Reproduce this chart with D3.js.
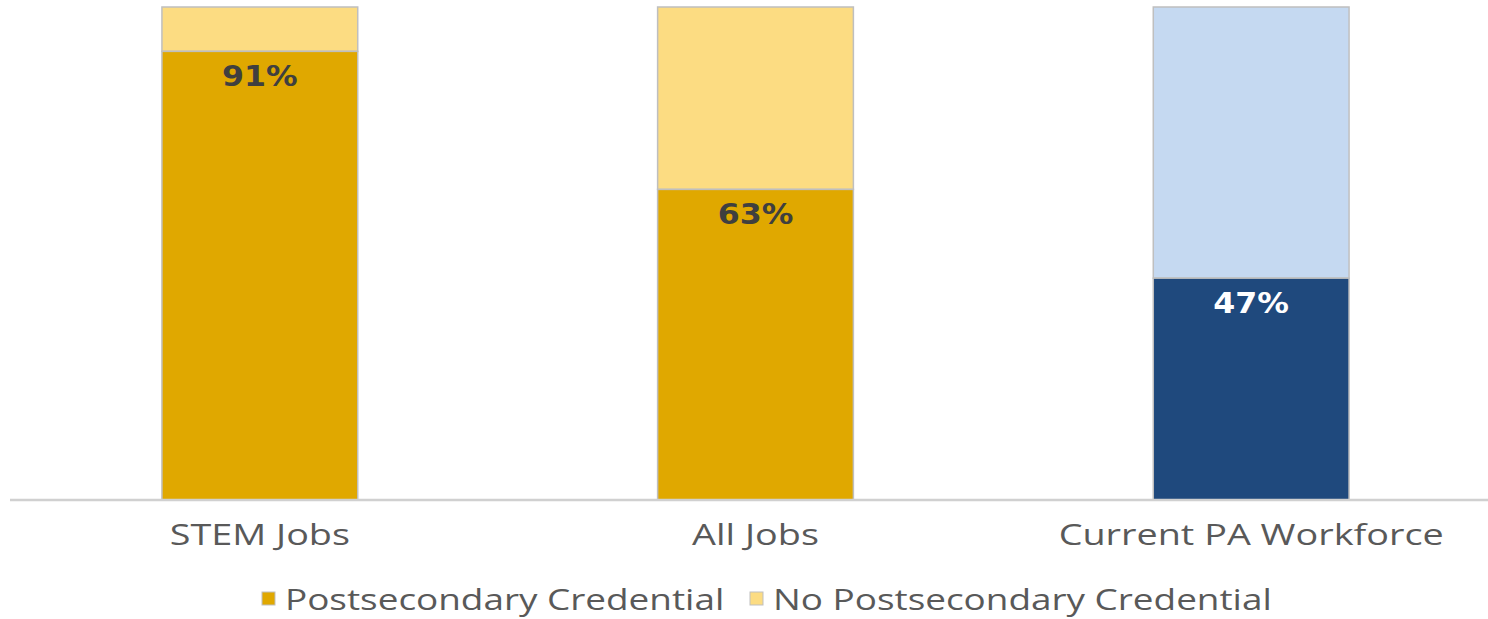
<!DOCTYPE html>
<html><head><meta charset="utf-8">
<script src="https://cdn.jsdelivr.net/npm/d3@7"></script>
<style>html,body{margin:0;padding:0;background:#fff;}svg{display:block;}</style>
</head><body><svg id="c" width="1488" height="619"></svg>
<script>
const categories = ["STEM Jobs", "All Jobs", "Current PA Workforce"];
const postsecondary = [91, 63, 45];
const noPostsecondary = [9, 37, 55];
const valueLabels = ["91%", "63%", "47%"];
const seriesNames = ["Postsecondary Credential", "No Postsecondary Credential"];
const darkColors = ["#E0A800", "#E0A800", "#1F497D"];
const lightColors = ["#FCDC82", "#FCDC82", "#C5D9F1"];
const labelColors = ["#3F3F3F", "#3F3F3F", "#FFFFFF"];

const svg = d3.select("#c");
const x = d3.scaleBand().domain(categories).range([12, 1499]).paddingInner(0.605).paddingOuter(0.3025);
const y = d3.scaleLinear().domain([0, 100]).range([500, 7]);

const rows = categories.map((c, i) => ({c, i, a: postsecondary[i], b: noPostsecondary[i]}));

svg.selectAll("rect.light").data(rows).join("rect").attr("class","light")
  .attr("x", d => x(d.c)).attr("width", x.bandwidth())
  .attr("y", d => y(d.a + d.b)).attr("height", d => y(d.a) - y(d.a + d.b))
  .attr("fill", d => lightColors[d.i]).attr("stroke", "#BFBFBF").attr("stroke-width", 1.5);
svg.selectAll("rect.dark").data(rows).join("rect").attr("class","dark")
  .attr("x", d => x(d.c)).attr("width", x.bandwidth())
  .attr("y", d => y(d.a)).attr("height", d => y(0) - y(d.a))
  .attr("fill", d => darkColors[d.i]).attr("stroke", "#BFBFBF").attr("stroke-width", 1.5);

svg.selectAll("text.val").data(rows).join("text").attr("class","val")
  .attr("transform", d => `translate(${x(d.c) + x.bandwidth()/2},${y(d.a) + 35}) scale(1.13,1)`)
  .attr("text-anchor", "middle").attr("font-family", "DejaVu Sans").attr("font-weight", "bold")
  .attr("font-size", 28).attr("fill", d => labelColors[d.i]).text(d => valueLabels[d.i]);

const ax = svg.append("g").attr("transform", "translate(0,500)")
  .call(d3.axisBottom(x).tickSize(0).tickPadding(0));
ax.select(".domain").attr("d", "M10,0H1488").attr("stroke", "#D0D0D0").attr("stroke-width", 2.5);
ax.selectAll(".tick text").attr("y", 0).attr("dy", 0)
  .attr("transform", "translate(0,45) scale(1.26,1)")
  .attr("font-family", "Open Sans").attr("font-size", 30).attr("fill", "#595959");

const legend = svg.append("g");
const legX = [262, 750];
seriesNames.forEach((n, i) => {
  const g = legend.append("g").attr("transform", `translate(${legX[i]},0)`);
  g.append("rect").attr("x", 0).attr("y", 592).attr("width", 13).attr("height", 13)
    .attr("fill", i === 0 ? darkColors[0] : lightColors[0]).attr("stroke", "#BFBFBF").attr("stroke-width", 1);
  g.append("text").attr("transform", "translate(23,610) scale(1.23,1)").attr("font-family", "Open Sans")
    .attr("font-size", 30).attr("fill", "#595959").text(n);
});
</script></body></html>
